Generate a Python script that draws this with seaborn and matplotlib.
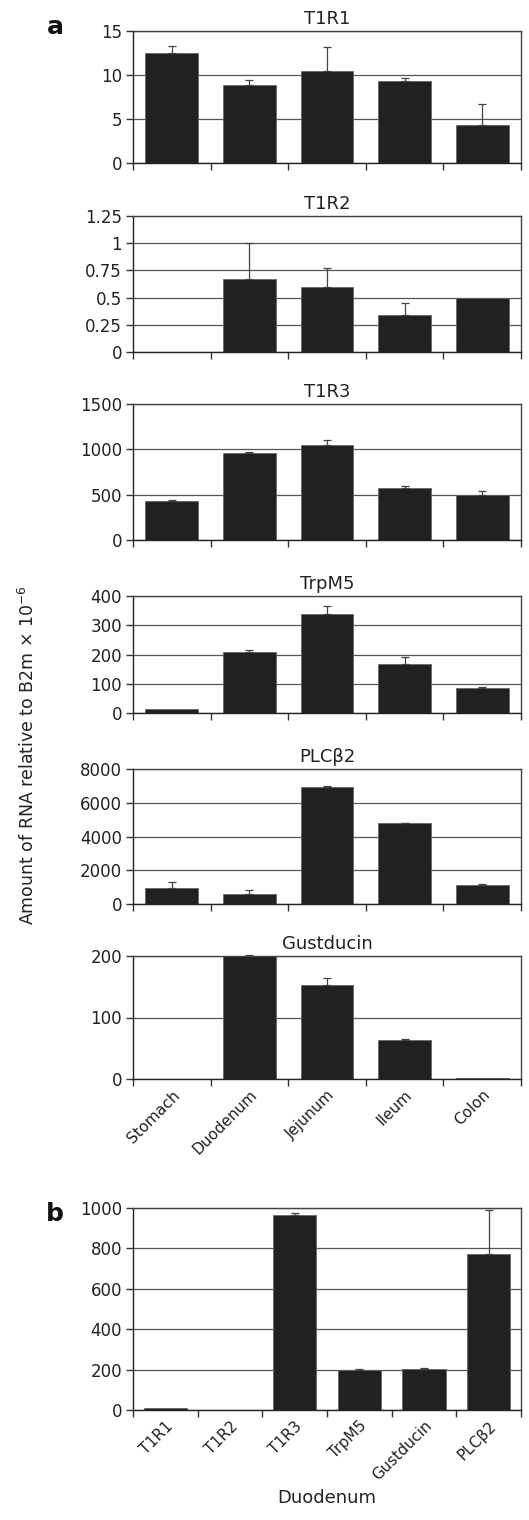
import numpy as np
import pandas as pd
import matplotlib
matplotlib.use("Agg")
import matplotlib.pyplot as plt
import seaborn as sns

# tissues for panel a, genes for panel b
tissues = ["Stomach", "Duodenum", "Jejunum", "Ileum", "Colon"]
genes = ["T1R1", "T1R2", "T1R3", "TrpM5", "Gustducin", "PLC\u03b22"]

t1r1 = [12.5, 8.9, 10.5, 9.3, 4.3]
t1r1_err = [0.8, 0.5, 2.7, 0.4, 2.4]
t1r2 = [0.0, 0.67, 0.6, 0.34, 0.5]
t1r2_err = [0.0, 0.33, 0.17, 0.11, 0.0]
t1r3 = [430, 960, 1050, 575, 500]
t1r3_err = [15, 10, 50, 20, 35]
trpm5 = [12, 208, 340, 168, 87]
trpm5_err = [0, 7, 25, 22, 3]
plcb2 = [950, 600, 6950, 4780, 1100]
plcb2_err = [350, 230, 50, 40, 80]
gust = [0, 200, 153, 63, 1]
gust_err = [0, 2, 12, 2, 0]

duod = [8, 0.6, 965, 200, 205, 770]
duod_err = [0, 0, 10, 5, 3, 220]

panels = [
    ("T1R1", t1r1, t1r1_err, 15, [0, 5, 10, 15], ["0", "5", "10", "15"], 31, 163),
    ("T1R2", t1r2, t1r2_err, 1.25, [0, 0.25, 0.5, 0.75, 1, 1.25],
     ["0", "0.25", "0.5", "0.75", "1", "1.25"], 216, 352),
    ("T1R3", t1r3, t1r3_err, 1500, [0, 500, 1000, 1500], None, 404, 540),
    ("TrpM5", trpm5, trpm5_err, 400, [0, 100, 200, 300, 400], None, 596, 713),
    ("PLC\u03b22", plcb2, plcb2_err, 8000, [0, 2000, 4000, 6000, 8000], None, 769, 904),
    ("Gustducin", gust, gust_err, 200, [0, 100, 200], None, 956, 1079),
]

sns.set_theme(style="white")
plt.rcParams['font.family'] = ['DejaVu Sans']

W, H = 529, 1520
fig = plt.figure(figsize=(W / 100, H / 100), dpi=100)
left, right = 133, 521

bar_col = "#222120"
grid_col = "#555555"
txt_col = "#222222"


def add_errors(ax, vals, errs):
    v = np.array(vals, dtype=float)
    e = np.array(errs, dtype=float)
    idx = np.where(e > 0)[0]
    ax.errorbar(idx, v[idx], yerr=[np.zeros(len(idx)), e[idx]], fmt="none",
                ecolor="#444444", elinewidth=0.9, capsize=3, capthick=0.9,
                clip_on=False)


def style_axis(ax, n, ymax, yticks, ylabels, cats, show_labels):
    ax.set_xlim(-0.5, n - 0.5)
    ax.set_ylim(0, ymax)
    ax.set_yticks(yticks)
    if ylabels is not None:
        ax.set_yticklabels(ylabels)
    ax.yaxis.grid(True, color=grid_col, lw=0.9)
    ax.set_axisbelow(True)
    ax.set_xticks(np.arange(n + 1) - 0.5)
    ax.set_xticklabels([])
    ax.set_xticks(np.arange(n), minor=True)
    if show_labels:
        ax.set_xticklabels(cats, minor=True, rotation=45, ha="right",
                           rotation_mode="anchor", fontsize=11, color=txt_col)
    ax.tick_params(axis="x", which="major", direction="out", length=5, width=1,
                   color="#333333", bottom=True)
    ax.tick_params(axis="x", which="minor", length=0, pad=6)
    ax.tick_params(axis="y", direction="out", length=5, width=1, color="#333333",
                   left=True, labelsize=12, labelcolor=txt_col, pad=3)
    for s in ax.spines.values():
        s.set_color("#444444")
        s.set_linewidth(1.0)
    ax.spines["left"].set_color("#222222")
    ax.spines["bottom"].set_color("#222222")
    ax.set_xlabel("")
    ax.set_ylabel("")


for i, (name, vals, errs, ymax, yt, yl, ytop, ybot) in enumerate(panels):
    ax = fig.add_axes([left / W, 1 - ybot / H, (right - left) / W, (ybot - ytop) / H])
    df = pd.DataFrame({"tissue": tissues, "value": vals})
    sns.barplot(data=df, x="tissue", y="value", order=tissues, color=bar_col,
                width=0.68, errorbar=None, saturation=1, edgecolor="#666666",
                linewidth=0.6, ax=ax)
    add_errors(ax, vals, errs)
    style_axis(ax, len(tissues), ymax, yt, yl, tissues, i == len(panels) - 1)
    ax.set_title(name, fontsize=13, color=txt_col, pad=5)

# panel b
ax = fig.add_axes([left / W, 1 - 1410 / H, (right - left) / W, (1410 - 1208) / H])
dfb = pd.DataFrame({"gene": genes, "value": duod})
sns.barplot(data=dfb, x="gene", y="value", order=genes, color=bar_col, width=0.67,
            errorbar=None, saturation=1, edgecolor="#666666", linewidth=0.6, ax=ax)
add_errors(ax, duod, duod_err)
style_axis(ax, len(genes), 1000, [0, 200, 400, 600, 800, 1000], None, genes, True)
ax.set_xlabel("Duodenum", fontsize=13, color=txt_col, labelpad=4)

fig.text(28 / W, 1 - 755 / H, "Amount of RNA relative to B2m \u00d7 10$^{-6}$",
         rotation=90, ha="center", va="center", fontsize=12.5, color=txt_col)
fig.text(55 / W, 1 - 27 / H, "a", fontsize=18, fontweight="bold", ha="center",
         va="center", color="#111111")
fig.text(55 / W, 1 - 1214 / H, "b", fontsize=18, fontweight="bold", ha="center",
         va="center", color="#111111")

fig.savefig("out.png", dpi=100)
